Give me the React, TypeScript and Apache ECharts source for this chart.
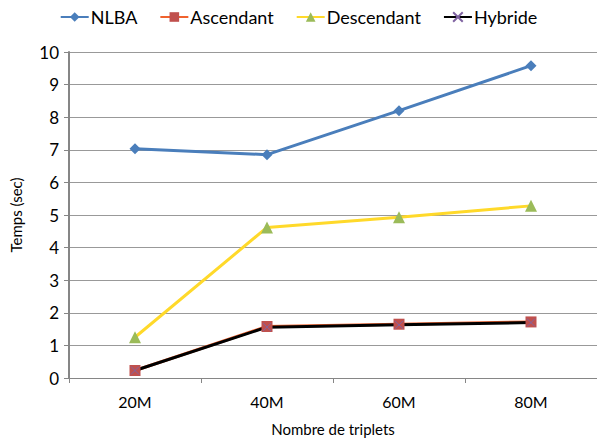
import React, { useEffect, useRef } from "react";
import * as echarts from "echarts";

const categories = ["20M", "40M", "60M", "80M"];
const nlba = [7.03, 6.85, 8.2, 9.58];
const ascendant = [0.23, 1.58, 1.65, 1.72];
const descendant = [1.25, 4.62, 4.93, 5.28];
const hybride = [0.23, 1.56, 1.63, 1.7];
const yTicks = { min: 0, max: 10, interval: 1 };

const FONT = "Lato, 'Open Sans', sans-serif";

export default function App() {
  const ref = useRef<HTMLDivElement>(null);
  useEffect(() => {
    const chart = echarts.init(ref.current!, null, { renderer: "svg" });
    chart.setOption({
      animation: false,
      backgroundColor: "#ffffff",
      textStyle: { fontFamily: FONT },
      legend: {
        top: 3,
        left: "center",
        itemWidth: 28,
        itemHeight: 12,
        itemGap: 22,
        textStyle: { fontSize: 18, color: "#000", fontFamily: FONT, padding: [0, 0, 0, -3] },
        data: ["NLBA", "Ascendant", "Descendant", "Hybride"],
      },
      grid: { left: 69, top: 52, width: 533, bottom: 60, containLabel: false },
      xAxis: {
        type: "category",
        data: categories,
        name: "Nombre de triplets",
        nameLocation: "middle",
        nameGap: 43,
        nameTextStyle: { fontSize: 15, color: "#000", fontFamily: FONT },
        axisLine: { lineStyle: { color: "#868686", width: 1 } },
        axisTick: { show: true, length: 5, lineStyle: { color: "#868686" } },
        axisLabel: { fontSize: 16, color: "#000", margin: 15, fontFamily: FONT },
      },
      yAxis: {
        type: "value",
        min: yTicks.min,
        max: yTicks.max,
        interval: yTicks.interval,
        name: "Temps (sec)",
        nameLocation: "middle",
        nameGap: 46,
        nameRotate: 90,
        nameTextStyle: { fontSize: 15, color: "#000", fontFamily: FONT },
        axisLine: { show: true, lineStyle: { color: "#868686", width: 2 } },
        axisTick: { show: true, length: 5, lineStyle: { color: "#868686" } },
        axisLabel: { fontSize: 17, color: "#000", margin: 10, fontFamily: FONT },
        splitLine: { lineStyle: { color: "#999999", width: 1 } },
      },
      series: [
        {
          name: "NLBA",
          type: "line",
          data: nlba,
          symbol: "diamond",
          symbolSize: 11,
          lineStyle: { color: "#4A7EBB", width: 3 },
          itemStyle: { color: "#4A7EBB" },
        },
        {
          name: "Ascendant",
          type: "line",
          data: ascendant,
          symbol: "rect",
          symbolSize: 11,
          lineStyle: { color: "#F0622E", width: 3 },
          itemStyle: { color: "#C0504D" },
        },
        {
          name: "Descendant",
          type: "line",
          data: descendant,
          symbol: "triangle",
          symbolSize: 12,
          lineStyle: { color: "#FFD92A", width: 3 },
          itemStyle: { color: "#9BBB59" },
        },
        {
          name: "Hybride",
          type: "line",
          data: hybride,
          symbol: "path://M0,0L10,10M10,0L0,10",
          symbolSize: 8,
          lineStyle: { color: "#000000", width: 3 },
          itemStyle: { color: "#8064A2", borderColor: "#8064A2", borderWidth: 1 },
        },
      ],
    });
    return () => chart.dispose();
  }, []);
  return <div ref={ref} style={{ width: 597, height: 441, position: "absolute", left: 0, top: 0 }} />;
}
